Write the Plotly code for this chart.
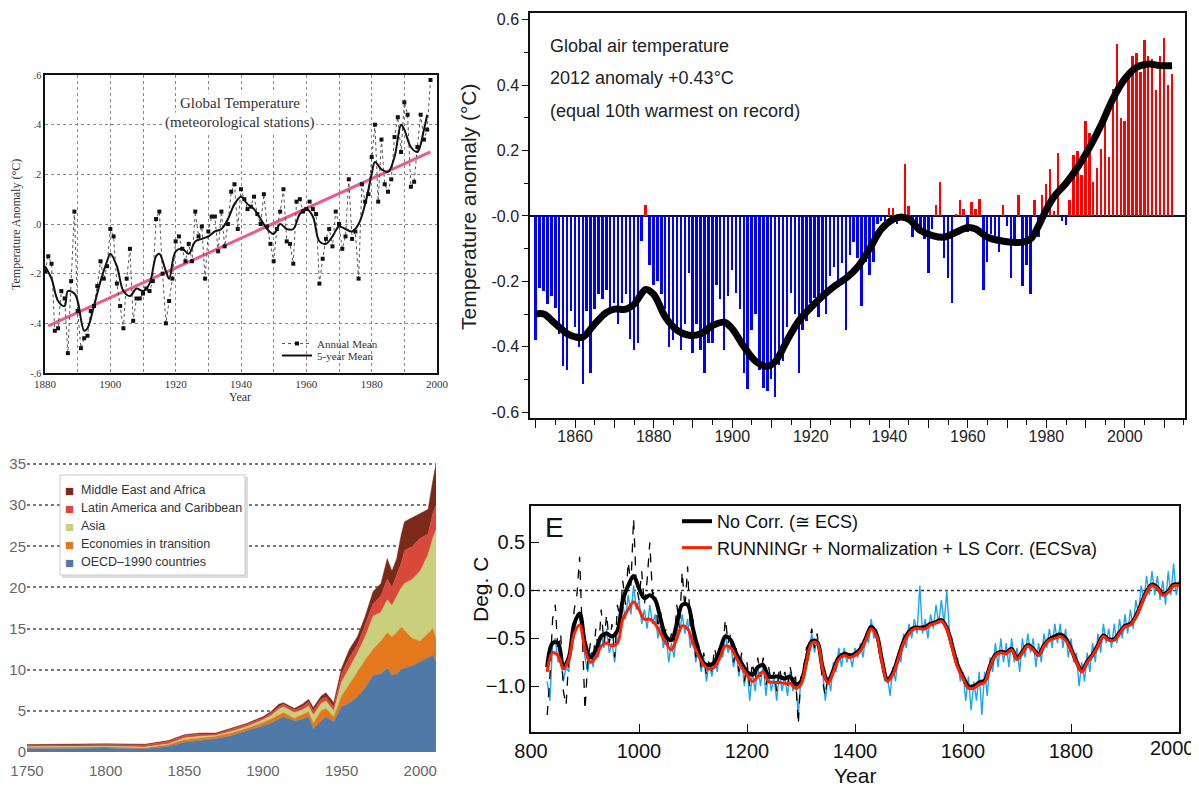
import plotly.graph_objects as go

# ---------------- Panel A: Global Temperature (meteorological stations) ----------------
a_years = list(range(1880, 1999))
a_annual = [-0.19, -0.13, -0.16, -0.43, -0.42, -0.27, -0.30, -0.52, -0.23, 0.05,
            -0.35, -0.50, -0.46, -0.45, -0.35, -0.33, -0.25, -0.15, -0.22, -0.17,
            -0.02, -0.05, -0.24, -0.33, -0.42, -0.22, -0.10, -0.39, -0.30, -0.30,
            -0.28, -0.26, -0.27, -0.23, 0.02, 0.05, -0.20, -0.40, -0.31, -0.22,
            -0.07, -0.05, -0.10, -0.15, -0.08, -0.15, 0.05, -0.05, -0.01, -0.22,
            -0.03, 0.03, 0.03, -0.11, 0.05, -0.09, 0.00, 0.13, 0.16, -0.02,
            0.14, 0.10, 0.06, 0.07, 0.11, 0.04, 0.00, 0.12, -0.01, -0.08,
            -0.15, -0.02, 0.05, 0.14, -0.07, -0.08, -0.16, 0.09, 0.10, 0.05,
            0.06, 0.09, 0.06, 0.04, -0.24, -0.14, -0.06, -0.02, -0.09, 0.05,
            0.00, -0.10, -0.05, 0.18, -0.06, -0.03, -0.22, 0.16, 0.09, 0.12,
            0.27, 0.40, 0.09, 0.34, 0.16, 0.13, 0.18, 0.35, 0.43, 0.29,
            0.49, 0.44, 0.15, 0.17, 0.31, 0.44, 0.34, 0.38, 0.58]
a5_years = [1880, 1882, 1884, 1886, 1887, 1889, 1890, 1892, 1893, 1895, 1897, 1899,
            1900, 1902, 1904, 1906, 1908, 1910, 1912, 1914, 1915, 1917, 1918, 1920,
            1922, 1924, 1926, 1928, 1930, 1932, 1934, 1936, 1938, 1940, 1942, 1944,
            1946, 1948, 1950, 1952, 1954, 1956, 1958, 1960, 1962, 1964, 1966, 1968,
            1970, 1972, 1974, 1976, 1978, 1980, 1981, 1983, 1985, 1987, 1989, 1990,
            1992, 1994, 1996, 1997]
a5_vals = [-0.17, -0.22, -0.31, -0.33, -0.27, -0.28, -0.31, -0.43, -0.42, -0.33, -0.23, -0.15,
           -0.12, -0.17, -0.27, -0.29, -0.26, -0.27, -0.24, -0.13, -0.12, -0.19, -0.22, -0.11,
           -0.10, -0.12, -0.07, -0.06, -0.05, -0.03, -0.02, 0.02, 0.08, 0.11, 0.08, 0.06,
           0.02, -0.02, -0.04, 0.00, -0.02, -0.02, 0.04, 0.06, 0.03, -0.07, -0.08, -0.05,
           -0.01, -0.02, -0.03, 0.00, 0.08, 0.20, 0.25, 0.22, 0.21, 0.27, 0.40, 0.38,
           0.31, 0.29, 0.38, 0.44]
a_trend_years = [1881, 1998]
a_trend_vals = [-0.41, 0.29]

# ---------------- Panel B: Global air temperature bars ----------------
b_years = list(range(1850, 2013))
b_vals = [-0.38, -0.22, -0.23, -0.27, -0.245, -0.28, -0.36, -0.46, -0.47, -0.29,
          -0.34, -0.40, -0.515, -0.29, -0.48, -0.285, -0.24, -0.255, -0.225, -0.285,
          -0.265, -0.33, -0.265, -0.24, -0.375, -0.41, -0.39, -0.075, 0.035, -0.15,
          -0.21, -0.20, -0.24, -0.285, -0.40, -0.38, -0.34, -0.41, -0.33, -0.175,
          -0.42, -0.33, -0.41, -0.48, -0.39, -0.39, -0.21, -0.255, -0.41, -0.245,
          -0.165, -0.235, -0.285, -0.48, -0.53, -0.35, -0.30, -0.47, -0.525, -0.535,
          -0.50, -0.555, -0.455, -0.445, -0.34, -0.235, -0.30, -0.48, -0.35, -0.32,
          -0.265, -0.25, -0.31, -0.255, -0.30, -0.185, -0.155, -0.205, -0.145, -0.35,
          -0.12, -0.08, -0.13, -0.275, -0.14, -0.18, -0.14, -0.025, -0.015, -0.025,
          0.025, 0.025, -0.025, -0.005, 0.16, 0.03, -0.065, -0.04, -0.045, -0.07,
          -0.175, -0.04, 0.035, 0.105, -0.13, -0.19, -0.265, 0.005, 0.05, 0.02,
          -0.05, 0.043, 0.022, 0.053, -0.225, -0.14, -0.055, -0.06, -0.11, 0.033,
          -0.03, -0.19, -0.07, 0.065, -0.215, -0.15, -0.24, 0.05, -0.065, 0.063,
          0.097, 0.143, 0.015, 0.194, -0.015, -0.029, 0.05, 0.187, 0.20, 0.125,
          0.29, 0.255, 0.105, 0.146, 0.204, 0.327, 0.18, 0.39, 0.525, 0.30,
          0.29, 0.434, 0.488, 0.50, 0.44, 0.538, 0.49, 0.48, 0.386, 0.49,
          0.544, 0.40, 0.434]
b_smooth_years = [1850, 1852, 1855, 1858, 1860, 1862, 1865, 1868, 1870, 1873, 1875, 1878,
                  1880, 1883, 1886, 1889, 1892, 1895, 1898, 1900, 1903, 1906, 1909, 1911,
                  1914, 1917, 1920, 1923, 1926, 1929, 1932, 1935, 1938, 1941, 1943, 1945,
                  1948, 1951, 1954, 1957, 1960, 1962, 1965, 1968, 1971, 1974, 1976, 1978,
                  1980, 1982, 1985, 1988, 1991, 1994, 1997, 2000, 2003, 2006, 2009, 2012]
b_smooth_vals = [-0.30, -0.30, -0.33, -0.36, -0.37, -0.37, -0.33, -0.295, -0.285, -0.285, -0.27, -0.225,
                 -0.24, -0.31, -0.35, -0.365, -0.36, -0.335, -0.325, -0.345, -0.40, -0.445, -0.46, -0.445,
                 -0.38, -0.32, -0.28, -0.245, -0.215, -0.19, -0.155, -0.10, -0.04, -0.01, -0.003, -0.01,
                 -0.045, -0.06, -0.065, -0.05, -0.035, -0.04, -0.065, -0.075, -0.08, -0.08, -0.07, -0.03,
                 0.02, 0.06, 0.10, 0.15, 0.21, 0.28, 0.36, 0.42, 0.455, 0.465, 0.46, 0.46]
b_tick_years = [1850, 1860, 1870, 1880, 1890, 1900, 1910, 1920, 1930, 1940, 1950, 1960,
                1970, 1980, 1990, 2000, 2010]
b_tick_text = ["", "1860", "", "1880", "", "1900", "", "1920", "", "1940", "", "1960",
               "", "1980", "", "2000", ""]

# ---------------- Panel C: stacked emissions ----------------
c_years = [1750, 1775, 1800, 1825, 1840, 1850, 1860, 1870, 1880, 1890, 1900, 1905, 1910,
           1913, 1920, 1925, 1929, 1932, 1937, 1940, 1945, 1950, 1955, 1960, 1965, 1970,
           1975, 1979, 1982, 1985, 1988, 1990, 1995, 2000, 2005, 2008, 2010]
c_oecd = [0.4, 0.45, 0.5, 0.4, 0.7, 1.2, 1.4, 1.6, 2.0, 2.6, 3.2, 3.5, 4.0,
          4.3, 3.8, 4.0, 4.3, 2.8, 3.8, 4.3, 3.7, 5.5, 6.0, 6.7, 7.8, 9.3,
          9.5, 10.2, 9.3, 9.5, 10.0, 10.2, 10.5, 11.0, 11.6, 11.8, 11.0]
c_eit = [0.15, 0.15, 0.1, 0.1, 0.2, 0.3, 0.3, 0.3, 0.3, 0.3, 0.4, 0.5, 0.5,
         0.5, 0.3, 0.5, 0.6, 0.7, 1.2, 1.0, 0.6, 1.3, 2.3, 3.1, 3.4, 3.2,
         4.0, 4.3, 4.7, 5.0, 5.2, 4.6, 3.3, 2.5, 2.9, 3.2, 2.8]
c_asia = [0.1, 0.1, 0.1, 0.1, 0.1, 0.2, 0.2, 0.1, 0.2, 0.2, 0.3, 0.4, 0.7,
          0.7, 0.7, 0.6, 0.7, 1.0, 0.9, 0.9, 0.7, 1.7, 1.9, 2.2, 2.8, 4.0,
          3.5, 4.0, 3.8, 4.5, 4.8, 5.7, 7.2, 8.5, 9.5, 11.0, 13.2]
c_latam = [0.15, 0.15, 0.2, 0.25, 0.3, 0.3, 0.3, 0.2, 0.3, 0.3, 0.2, 0.3, 0.3,
           0.3, 0.3, 0.4, 0.5, 0.5, 0.5, 0.5, 0.5, 1.0, 1.3, 1.0, 1.5, 1.5,
           2.0, 2.5, 2.2, 2.5, 3.0, 4.0, 4.0, 4.0, 2.5, 3.0, 3.0]
c_mea = [0.1, 0.1, 0.1, 0.1, 0.1, 0.1, 0.1, 0.1, 0.1, 0.1, 0.2, 0.2, 0.3,
         0.2, 0.2, 0.3, 0.3, 0.4, 0.4, 0.5, 0.5, 0.7, 1.0, 1.0, 1.0, 1.5,
         1.5, 2.5, 2.0, 2.0, 3.5, 3.5, 3.5, 3.0, 3.0, 4.0, 5.0]
c_names = ["OECD\u20131990 countries", "Economies in transition", "Asia",
           "Latin America and Caribbean", "Middle East and Africa"]
c_cols = ["#4f7aa8", "#e3791c", "#c9cf7b", "#d9493b", "#7b2a19"]

# ---------------- Panel D: reconstruction ----------------
d_years = list(range(830, 2001, 5))
d_blue = [-0.95, -1.15, -0.55, -0.50, -0.75, -0.70, -0.95, -0.80, -0.85, -0.55,
          -0.50, -0.25, -0.30, -0.45, -0.70, -0.85, -0.65, -0.80, -0.60, -0.70,
          -0.45, -0.60, -0.40, -0.65, -0.55, -0.75, -0.40, -0.35, -0.15, -0.30,
          -0.05, -0.25, 0.05, -0.20, -0.10, -0.35, -0.20, -0.40, -0.15, -0.35,
          -0.25, -0.50, -0.35, -0.60, -0.45, -0.75, -0.55, -0.70, -0.40, -0.45,
          -0.25, -0.45, -0.30, -0.60, -0.45, -0.75, -0.60, -0.85, -0.70, -0.95,
          -0.75, -0.90, -0.70, -0.85, -0.60, -0.70, -0.45, -0.65, -0.55, -0.80,
          -0.65, -0.90, -0.70, -1.00, -0.80, -1.15, -0.85, -1.05, -0.80, -1.00,
          -0.75, -1.10, -0.85, -1.05, -0.90, -1.15, -0.85, -1.05, -0.90, -1.10,
          -0.85, -1.05, -0.95, -1.30, -0.90, -0.85, -0.65, -0.60, -0.45, -0.65,
          -0.50, -0.75, -0.85, -1.15, -0.90, -1.05, -0.75, -0.85, -0.60, -0.80,
          -0.60, -0.75, -0.65, -0.80, -0.60, -0.70, -0.55, -0.70, -0.45, -0.55,
          -0.30, -0.50, -0.40, -0.65, -0.70, -0.95, -0.90, -1.10, -0.80, -0.95,
          -0.65, -0.75, -0.45, -0.60, -0.35, -0.50, -0.30, -0.45, 0.05, -0.45,
          -0.30, -0.50, -0.25, -0.40, -0.15, -0.35, -0.10, -0.35, 0.00, -0.45,
          -0.50, -0.75, -0.70, -0.95, -0.85, -1.15, -0.90, -1.25, -0.95, -1.15,
          -0.85, -1.30, -0.85, -1.10, -0.70, -0.85, -0.55, -0.80, -0.50, -0.75,
          -0.55, -0.80, -0.50, -0.75, -0.60, -0.85, -0.50, -0.70, -0.45, -0.65,
          -0.50, -0.80, -0.55, -0.75, -0.45, -0.60, -0.40, -0.60, -0.35, -0.55,
          -0.35, -0.60, -0.40, -0.70, -0.50, -0.75, -0.65, -1.00, -0.75, -0.95,
          -0.65, -0.85, -0.55, -0.75, -0.45, -0.65, -0.35, -0.55, -0.40, -0.60,
          -0.35, -0.55, -0.30, -0.50, -0.25, -0.45, -0.20, -0.40, -0.10, -0.25,
          0.05, -0.10, 0.15, -0.05, 0.20, -0.05, 0.15, -0.10, 0.10, -0.15,
          0.20, -0.05, 0.28, -0.05, 0.10]
d_raw_years = list(range(830, 1351, 5))
d_raw = [-1.30, -0.90, -0.30, -0.15, -0.65, -0.45, -1.05, -1.20, -0.70, -0.60,
         -0.20, -0.05, 0.35, -0.40, -1.25, -0.75, -0.55, -0.75, -0.40, -0.65,
         -0.20, -0.55, -0.25, -0.55, -0.35, -0.70, -0.15, -0.30, 0.10, -0.15,
         0.30, 0.05, 0.75, 0.05, -0.10, 0.20, -0.15, 0.10, 0.50, -0.05,
         0.00, -0.40, -0.20, -0.55, -0.40, -0.60, -0.45, -0.55, -0.15, -0.40,
         0.20, -0.20, 0.25, -0.40, -0.30, -0.70, -0.55, -0.80, -0.65, -0.90,
         -0.70, -0.85, -0.60, -0.75, -0.55, -0.60, -0.30, -0.55, -0.45, -0.75,
         -0.60, -0.85, -0.65, -0.95, -0.75, -1.00, -0.75, -0.95, -0.70, -0.90,
         -0.70, -1.00, -0.80, -0.95, -0.85, -1.05, -0.80, -0.95, -0.85, -1.00,
         -0.80, -0.95, -0.90, -1.40, -0.85, -0.80, -0.60, -0.55, -0.40, -0.60,
         -0.45, -0.70, -0.95, -1.10, -0.85]
d_s_years = list(range(830, 2001, 10))
d_red = [-0.85, -0.65, -0.68, -0.82, -0.72, -0.45, -0.36, -0.62, -0.75, -0.70,
         -0.58, -0.55, -0.58, -0.55, -0.30, -0.20, -0.12, -0.20, -0.30, -0.30,
         -0.35, -0.45, -0.55, -0.62, -0.50, -0.37, -0.40, -0.55, -0.68, -0.78,
         -0.82, -0.80, -0.70, -0.58, -0.60, -0.70, -0.80, -0.88, -0.95, -0.90,
         -0.85, -0.95, -0.96, -0.96, -0.97, -0.97, -1.02, -0.98, -0.75, -0.55,
         -0.55, -0.82, -0.97, -0.85, -0.72, -0.68, -0.70, -0.68, -0.63, -0.52,
         -0.40, -0.48, -0.75, -0.95, -0.88, -0.72, -0.55, -0.45, -0.40, -0.40,
         -0.40, -0.36, -0.34, -0.32, -0.40, -0.60, -0.80, -0.92, -1.02, -1.02,
         -0.98, -0.96, -0.80, -0.68, -0.65, -0.66, -0.62, -0.72, -0.65, -0.58,
         -0.62, -0.68, -0.58, -0.52, -0.50, -0.48, -0.52, -0.62, -0.75, -0.85,
         -0.75, -0.68, -0.58, -0.48, -0.52, -0.52, -0.45, -0.38, -0.36, -0.28,
         -0.15, -0.02, 0.05, 0.02, -0.05, -0.02, 0.05, 0.05]
d_black = [-0.80, -0.55, -0.55, -0.80, -0.70, -0.35, -0.24, -0.55, -0.70, -0.62,
           -0.48, -0.45, -0.48, -0.42, -0.10, 0.05, 0.15, 0.02, -0.08, -0.05,
           -0.10, -0.30, -0.48, -0.52, -0.35, -0.15, -0.15, -0.40, -0.62, -0.76,
           -0.78, -0.75, -0.62, -0.48, -0.52, -0.66, -0.76, -0.85, -0.88, -0.80,
           -0.78, -0.90, -0.90, -0.90, -0.92, -0.90, -0.98, -0.95, -0.73, -0.53,
           -0.54, -0.80, -0.95, -0.83, -0.70, -0.66, -0.68, -0.66, -0.61, -0.50,
           -0.38, -0.46, -0.73, -0.93, -0.86, -0.70, -0.53, -0.43, -0.39, -0.39,
           -0.38, -0.35, -0.33, -0.31, -0.39, -0.58, -0.78, -0.90, -1.00, -1.00,
           -0.96, -0.94, -0.79, -0.67, -0.64, -0.65, -0.61, -0.71, -0.64, -0.57,
           -0.61, -0.67, -0.57, -0.51, -0.48, -0.46, -0.50, -0.61, -0.74, -0.84,
           -0.74, -0.67, -0.57, -0.47, -0.51, -0.51, -0.44, -0.37, -0.35, -0.27,
           -0.14, -0.01, 0.06, 0.03, -0.04, -0.01, 0.06, 0.06]
d_tick_years = [800, 1000, 1200, 1400, 1600, 1800, 2000]
d_tick_text = ["800", "1000", "1200", "1400", "1600", "1800", ""]

fig = go.Figure()

# Panel A traces
fig.add_trace(go.Scatter(x=a_trend_years, y=a_trend_vals, mode="lines", xaxis="x", yaxis="y",
                         line=dict(color="#ee5a8c", width=3), showlegend=False, hoverinfo="skip"))
fig.add_trace(go.Scatter(x=a_years, y=a_annual, mode="lines+markers", xaxis="x", yaxis="y",
                         name="Annual Mean", legend="legend",
                         line=dict(color="#555555", width=1, dash="dot"),
                         marker=dict(color="#111111", size=4, symbol="square")))
fig.add_trace(go.Scatter(x=a5_years, y=a5_vals, mode="lines", xaxis="x", yaxis="y",
                         name="5-year Mean", legend="legend4", line_shape="spline",
                         line=dict(color="#111111", width=2)))

# Panel B traces
b_colors = ["#ff0000" if v > 0 else "#0000ff" for v in b_vals]
fig.add_trace(go.Bar(x=b_years, y=b_vals, xaxis="x2", yaxis="y2", width=0.5,
                     marker=dict(color=b_colors, line=dict(width=0)), showlegend=False))
fig.add_trace(go.Scatter(x=b_smooth_years, y=b_smooth_vals, mode="lines", xaxis="x2", yaxis="y2",
                         line_shape="spline", line=dict(color="#000000", width=7), showlegend=False))

# Panel C traces
for vals, name, col in zip([c_oecd, c_eit, c_asia, c_latam, c_mea], c_names, c_cols):
    fig.add_trace(go.Scatter(x=c_years, y=vals, mode="lines", stackgroup="one", name=name,
                             xaxis="x3", yaxis="y3", showlegend=False,
                             line=dict(width=0.5, color=col), fillcolor=col))

# Panel D traces
fig.add_trace(go.Scatter(x=d_years, y=d_blue, mode="lines", xaxis="x4", yaxis="y4",
                         line=dict(color="#1ea5f2", width=1.4), showlegend=False))
fig.add_trace(go.Scatter(x=d_raw_years, y=d_raw, mode="lines", xaxis="x4", yaxis="y4",
                         line=dict(color="#000000", width=1.3, dash="dash"), showlegend=False))
fig.add_trace(go.Scatter(x=d_s_years, y=d_black, mode="lines", xaxis="x4", yaxis="y4",
                         line_shape="spline", name="No Corr. (\u2245 ECS)", legend="legend3",
                         line=dict(color="#000000", width=4)))
fig.add_trace(go.Scatter(x=d_s_years, y=d_red, mode="lines", xaxis="x4", yaxis="y4",
                         line_shape="spline", name="RUNNINGr + Normalization + LS Corr. (ECSva)",
                         legend="legend3", line=dict(color="#ff2200", width=3)))

# page body has an 8px margin: design coordinates are in screenshot pixels
OFF = 8
W, H = 1199 - OFF, 789 - OFF
def px(x): return (x - OFF) / W
def py(y): return 1 - (y - OFF) / H

serif = "Liberation Serif, Times New Roman, serif"
sans = "Liberation Sans, Arial, sans-serif"

def ann(text, x, y, size, family=sans, color="#222", xanchor="center", angle=0, bg=None):
    d = dict(text=text, x=px(x), y=py(y), xref="paper", yref="paper", showarrow=False,
             xanchor=xanchor, yanchor="middle", textangle=angle,
             font=dict(family=family, size=size, color=color))
    if bg:
        d["bgcolor"] = bg
    return d

annotations = [
    ann("Global Temperature", 240, 103, 15, serif, "#333", bg="white"),
    ann("(meteorological stations)", 240, 122, 15, serif, "#333", bg="white"),
    ann("Year", 240, 397, 12, serif, "#333"),
    ann("Temperature Anomaly (\u00b0C)", 16, 225, 12, serif, "#333", angle=-90),
    ann("Global air temperature", 548, 46, 18, xanchor="left"),
    ann("2012 anomaly +0.43\u00b0C", 548, 78, 18, xanchor="left"),
    ann("(equal 10th warmest on record)", 548, 111, 18, xanchor="left"),
    ann("Temperature anomaly (\u00b0C)", 468, 207, 21, angle=-90),
    ann("E", 543, 527, 28, color="#111", xanchor="left"),
    ann("Deg. C", 480, 590, 21, color="#111", angle=-90),
    ann("Year", 855, 775, 21, color="#111"),
    # last tick label of the reconstruction panel, kept inside the page edge
    dict(text="2000", x=2000, y=0, xref="x4", yref="y4 domain", xanchor="right", yanchor="top",
         xshift=18, yshift=-3, showarrow=False, font=dict(family=sans, size=20, color="#111")),
]
# hand-made legend for the emissions panel (top item first)
leg_y = [490, 508, 526, 544, 562]
for name, col, yy in zip(c_names[::-1], c_cols[::-1], leg_y):
    annotations.append(ann("\u25a0", 70, yy, 15, color=col))
    annotations.append(ann(name, 79, yy, 12.5, color="#333", xanchor="left"))

shapes = [
    dict(type="line", xref="x4 domain", yref="y4", x0=0, x1=1, y0=0, y1=0,
         line=dict(color="#333", width=1.5, dash="dot"), layer="below"),
    dict(type="rect", xref="paper", yref="paper", x0=px(62), x1=px(248), y0=py(578), y1=py(477),
         fillcolor="#dddddd", line=dict(width=0), layer="above"),
    dict(type="rect", xref="paper", yref="paper", x0=px(60), x1=px(245), y0=py(575), y1=py(475),
         fillcolor="white", line=dict(color="#cccccc", width=1), layer="above"),
]

fig.update_layout(
    width=W, height=H, margin=dict(l=0, r=0, t=0, b=0, pad=0, autoexpand=False),
    paper_bgcolor="white", plot_bgcolor="white", bargap=0,
    xaxis=dict(domain=[px(45), px(437)], range=[1880, 2000], anchor="y", automargin=False,
               tickvals=[1880, 1900, 1920, 1940, 1960, 1980, 2000], ticklabeloverflow="allow",
               showgrid=True, gridcolor="#888", griddash="dot", gridwidth=1,
               minor=dict(dtick=10, showgrid=True, gridcolor="#888", griddash="dot"),
               showline=True, mirror=True, linecolor="#111", linewidth=1.5,
               tickfont=dict(family=serif, size=11, color="#333"), zeroline=False),
    yaxis=dict(domain=[py(373), py(75)], range=[-0.6, 0.6], anchor="x", automargin=False,
               tickvals=[-0.6, -0.4, -0.2, 0, 0.2, 0.4, 0.6], ticklabeloverflow="allow",
               ticktext=["-.6", "-.4", "-.2", ".0", ".2", ".4", ".6"],
               showgrid=True, gridcolor="#888", griddash="dot", gridwidth=1,
               showline=True, mirror=True, linecolor="#111", linewidth=1.5,
               tickfont=dict(family=serif, size=10, color="#333"), zeroline=False),
    xaxis2=dict(domain=[px(530), px(1185)], range=[1848.5, 2015.3], anchor="y2", automargin=False,
                tickvals=b_tick_years, ticktext=b_tick_text, ticklabeloverflow="allow",
                ticks="outside", ticklen=8, tickcolor="#111", ticklabelstandoff=-5,
                minor=dict(dtick=5, ticks="outside", ticklen=5, tickcolor="#111"),
                showline=True, mirror=True, linecolor="#111", linewidth=1.5, showgrid=False,
                tickfont=dict(family=sans, size=16, color="#222"), zeroline=False),
    yaxis2=dict(domain=[py(418), py(13)], range=[-0.618, 0.621], anchor="x2", automargin=False,
                tickvals=[-0.6, -0.4, -0.2, 0, 0.2, 0.4, 0.6], ticklabeloverflow="allow",
                ticktext=["-0.6", "-0.4", "-0.2", "-0.0", "0.2", "0.4", "0.6"],
                ticks="outside", ticklen=6, tickcolor="#111",
                minor=dict(dtick=0.1, ticks="outside", ticklen=4, tickcolor="#111"),
                showline=True, mirror=True, linecolor="#111", linewidth=1.5, showgrid=False,
                zeroline=True, zerolinecolor="#111", zerolinewidth=1.5,
                tickfont=dict(family=sans, size=16, color="#222")),
    xaxis3=dict(domain=[px(27), px(436)], range=[1750, 2010], anchor="y3", automargin=False,
                tickvals=[1750, 1800, 1850, 1900, 1950, 2000], showgrid=False,
                showline=False, zeroline=False, ticklabelstandoff=8, ticklabeloverflow="allow",
                tickfont=dict(family=sans, size=15, color="#666")),
    yaxis3=dict(domain=[py(752), py(460)], range=[0, 35.5], anchor="x3", automargin=False,
                tickvals=[0, 5, 10, 15, 20, 25, 30, 35], showgrid=True, ticklabeloverflow="allow",
                gridcolor="#777", griddash="dot", gridwidth=1.5, zeroline=False, showline=False,
                tickfont=dict(family=sans, size=15, color="#666")),
    xaxis4=dict(domain=[px(531), px(1179)], range=[800, 2000], anchor="y4", automargin=False,
                tickvals=d_tick_years, ticktext=d_tick_text, ticklabeloverflow="allow",
                ticks="inside", ticklen=8, tickcolor="#111",
                showline=True, mirror=True, linecolor="#111", linewidth=1.5, showgrid=False,
                zeroline=False, tickfont=dict(family=sans, size=20, color="#111")),
    yaxis4=dict(domain=[py(732), py(506)], range=[-1.477, 0.88], anchor="x4", automargin=False,
                tickvals=[-1.0, -0.5, 0.0, 0.5], ticktext=["\u22121.0", "\u22120.5", "0.0", "0.5"],
                ticks="inside", ticklen=8, tickcolor="#111", ticklabeloverflow="allow",
                showline=True, mirror=True, linecolor="#111", linewidth=1.5, showgrid=False,
                zeroline=False, tickfont=dict(family=sans, size=20, color="#111")),
    legend=dict(x=px(277), y=py(329), xanchor="left", yanchor="top", bgcolor="rgba(0,0,0,0)",
                font=dict(family=serif, size=11, color="#333"), itemwidth=30),
    legend4=dict(x=px(277), y=py(341), xanchor="left", yanchor="top", bgcolor="rgba(0,0,0,0)",
                 font=dict(family=serif, size=11, color="#333"), itemwidth=30),
    legend3=dict(x=px(677), y=py(503), xanchor="left", yanchor="top", bgcolor="rgba(0,0,0,0)",
                 font=dict(family=sans, size=18, color="#111"), itemwidth=30, tracegroupgap=0),
    shapes=shapes,
    annotations=annotations,
)

fig.write_html("out.html")
